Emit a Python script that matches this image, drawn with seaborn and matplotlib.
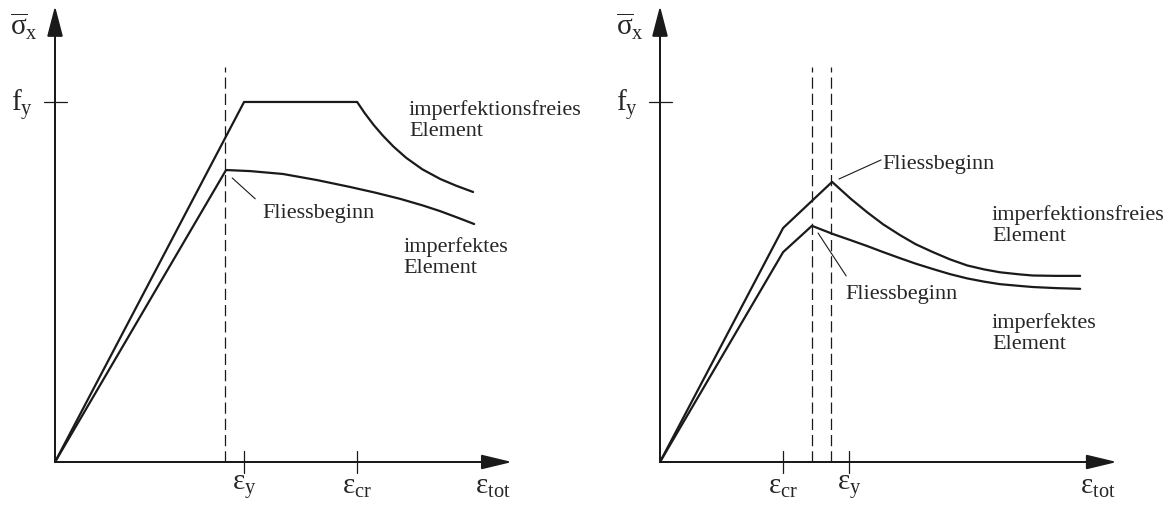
import matplotlib
matplotlib.use("Agg")
import matplotlib.pyplot as plt
import seaborn as sns
import pandas as pd

sns.set_theme(style="white")
plt.rcParams["font.family"] = ["Liberation Serif", "DejaVu Serif"]
plt.rcParams["mathtext.fontset"] = "custom"
plt.rcParams["mathtext.rm"] = "Liberation Serif"
plt.rcParams["mathtext.it"] = "Liberation Serif"
plt.rcParams["mathtext.bf"] = "Liberation Serif:bold"
plt.rcParams["mathtext.default"] = "regular"

# ---- strain / stress values (stress normalised by f_y = 1) ----
# left diagram: buckling after yield
left_free_x = [0.0, 0.525, 0.839, 0.860, 0.885, 0.910, 0.940, 0.975, 1.020, 1.070, 1.115, 1.161]
left_free_y = [0.0, 1.000, 1.000, 0.969, 0.936, 0.907, 0.876, 0.845, 0.813, 0.786, 0.767, 0.750]
left_imp_x = [0.0, 0.475, 0.542, 0.633, 0.728, 0.819, 0.890, 0.958, 1.020, 1.069, 1.120, 1.164]
left_imp_y = [0.0, 0.811, 0.808, 0.800, 0.783, 0.764, 0.748, 0.731, 0.713, 0.697, 0.678, 0.661]
left_eps_y = 0.525
left_eps_cr = 0.839
left_yield_start = 0.472

# right diagram: buckling before yield
right_free_x = [0.0, 0.342, 0.478, 0.530, 0.575, 0.620, 0.667, 0.710, 0.758, 0.805,
                0.853, 0.900, 0.944, 1.000, 1.036, 1.100, 1.167]
right_free_y = [0.0, 0.650, 0.778, 0.731, 0.694, 0.660, 0.630, 0.605, 0.583, 0.563,
                0.546, 0.535, 0.527, 0.521, 0.518, 0.517, 0.517]
right_imp_x = [0.0, 0.342, 0.422, 0.481, 0.530, 0.575, 0.620, 0.667, 0.710, 0.758,
               0.805, 0.853, 0.900, 0.944, 1.000, 1.036, 1.100, 1.167]
right_imp_y = [0.0, 0.583, 0.656, 0.633, 0.616, 0.600, 0.583, 0.566, 0.551, 0.536,
               0.522, 0.510, 0.501, 0.494, 0.489, 0.486, 0.483, 0.481]
right_eps_cr = 0.342
right_eps_y = 0.525
right_yield_imp = 0.422
right_yield_free = 0.475

fy = 1.0
x_axis_end = 1.26
y_axis_end = 1.258

LBL_SIGMA = r"$\overline{\sigma}_{\mathrm{x}}$"
LBL_FY = r"$\mathrm{f}_{\mathrm{y}}$"
LBL_EY = r"$\varepsilon_{\mathrm{y}}$"
LBL_ECR = r"$\varepsilon_{\mathrm{cr}}$"
LBL_ETOT = r"$\varepsilon_{\mathrm{tot}}$"

FS = 16
MFS = 21
LS = 1.17
CURVE_LW = 1.6

fig = plt.figure(figsize=(11.68, 5.06), dpi=100)
fig.patch.set_facecolor("white")
ax_l = fig.add_axes([0.0, 0.0, 0.5, 1.0])
ax_r = fig.add_axes([0.5, 0.0, 0.5, 1.0])

ax_l.set_xlim(-0.1528, 1.469)
ax_r.set_xlim(-0.2111, 1.411)
for ax in (ax_l, ax_r):
    ax.set_ylim(-0.1194, 1.286)
    ax.set_axis_off()


def draw_axes(ax, xticks, sigma_x, fy_x):
    # coordinate axes with filled arrow heads
    ax.arrow(0, 0, 0, y_axis_end, width=0, head_width=0.039, head_length=0.075,
             length_includes_head=True, fc="k", ec="k", lw=1.1, zorder=3)
    ax.arrow(0, 0, x_axis_end, 0, width=0, head_width=0.036, head_length=0.075,
             length_includes_head=True, fc="k", ec="k", lw=1.1, zorder=3)
    # f_y tick
    ax.plot([-0.031, 0.033], [fy, fy], color="k", lw=0.9)
    ax.text(fy_x, 0.994, LBL_FY, fontsize=MFS, ha="center", va="center")
    ax.text(sigma_x, 1.214, LBL_SIGMA, fontsize=MFS, ha="center", va="center")
    for xv, lab in xticks:
        ax.plot([xv, xv], [-0.031, 0.031], color="k", lw=0.9)
        ax.text(xv, -0.068, lab, fontsize=MFS, ha="center", va="center")
    ax.text(1.215, -0.068, LBL_ETOT, fontsize=MFS, ha="center", va="center")


def curve(ax, xs, ys):
    df = pd.DataFrame({"strain": xs, "stress": ys})
    sns.lineplot(data=df, x="strain", y="stress", ax=ax, sort=False,
                 estimator=None, color="k", lw=CURVE_LW)


def dashed(ax, xv):
    ax.plot([xv, xv], [0, 1.097], color="k", lw=0.9, dashes=(9, 4))


def leader(ax, start, end):
    ax.annotate("", xy=start, xytext=end,
                arrowprops=dict(arrowstyle="-", color="k", lw=0.8, shrinkA=0, shrinkB=0))


# ---- left diagram ----
draw_axes(ax_l, [(left_eps_y, LBL_EY), (left_eps_cr, LBL_ECR)], -0.0875, -0.092)
dashed(ax_l, left_yield_start)
curve(ax_l, left_free_x, left_free_y)
curve(ax_l, left_imp_x, left_imp_y)
leader(ax_l, (0.492, 0.789), (0.556, 0.731))
ax_l.text(0.575, 0.692, "Fliessbeginn", fontsize=FS, ha="left", va="center")
ax_l.text(0.983, 1.009, "imperfektionsfreies\nElement", fontsize=FS,
          ha="left", va="top", linespacing=LS)
ax_l.text(0.967, 0.628, "imperfektes\nElement", fontsize=FS,
          ha="left", va="top", linespacing=LS)

# ---- right diagram ----
draw_axes(ax_r, [(right_eps_cr, LBL_ECR), (right_eps_y, LBL_EY)], -0.083, -0.092)
dashed(ax_r, right_yield_imp)
dashed(ax_r, right_yield_free)
curve(ax_r, right_free_x, right_free_y)
curve(ax_r, right_imp_x, right_imp_y)
leader(ax_r, (0.497, 0.786), (0.614, 0.839))
ax_r.text(0.617, 0.828, "Fliessbeginn", fontsize=FS, ha="left", va="center")
leader(ax_r, (0.439, 0.636), (0.517, 0.517))
ax_r.text(0.514, 0.467, "Fliessbeginn", fontsize=FS, ha="left", va="center")
ax_r.text(0.922, 0.717, "imperfektionsfreies\nElement", fontsize=FS,
          ha="left", va="top", linespacing=LS)
ax_r.text(0.922, 0.417, "imperfektes\nElement", fontsize=FS,
          ha="left", va="top", linespacing=LS)

fig.savefig("out.png", dpi=100, facecolor="white")
